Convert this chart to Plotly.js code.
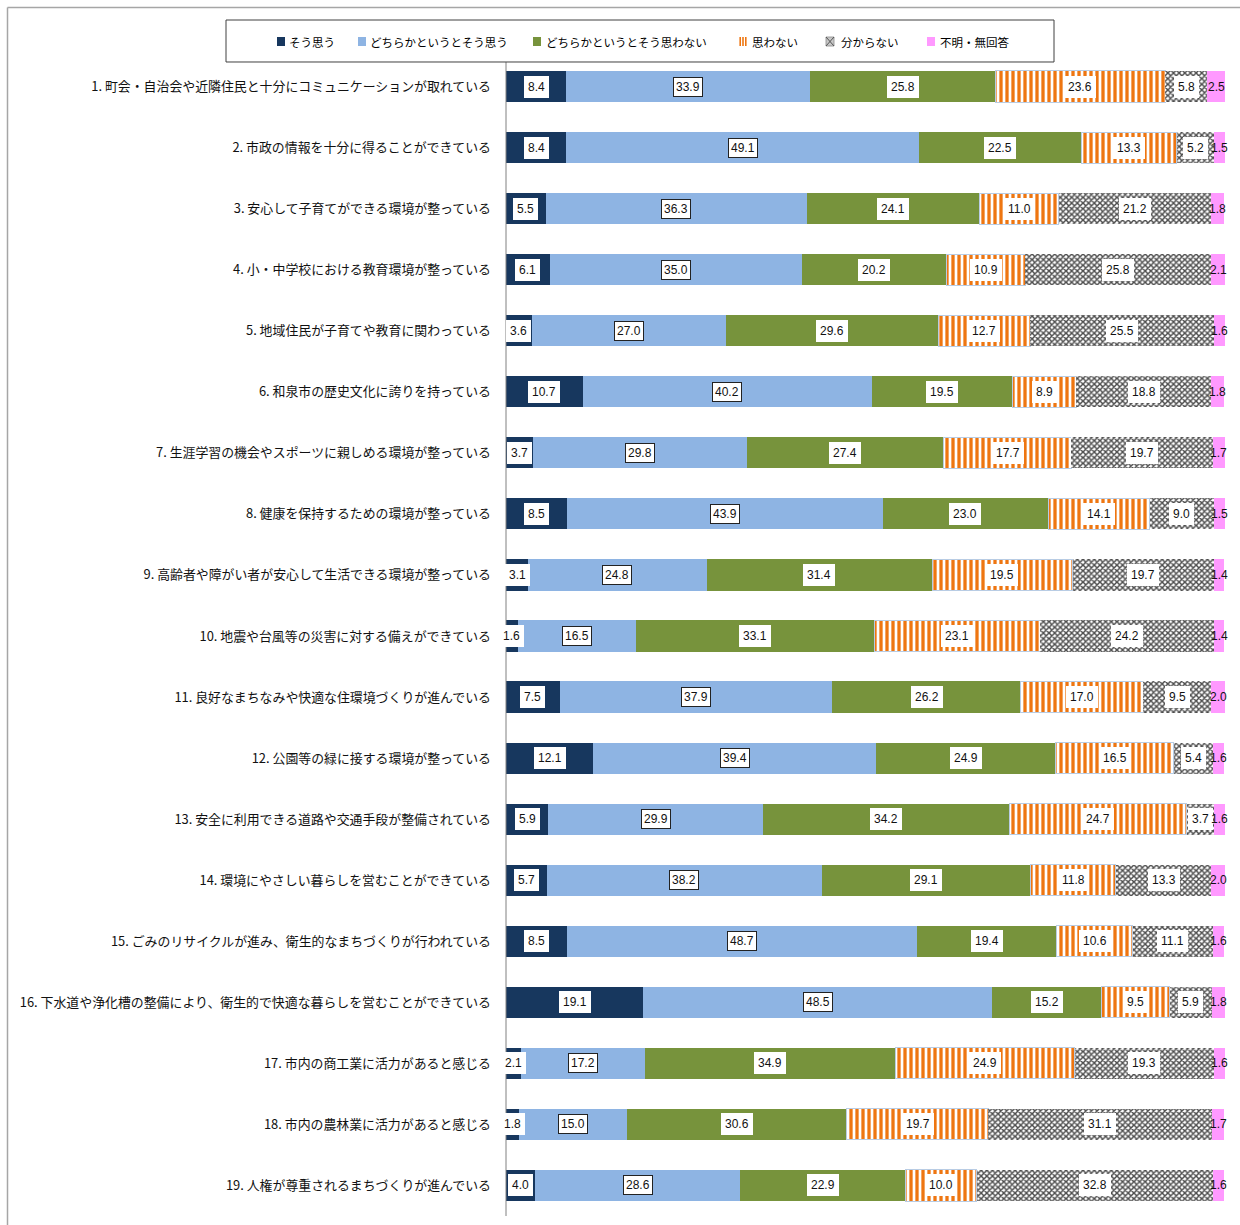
<!DOCTYPE html>
<html>
<head>
<meta charset="utf-8">
<script src="https://cdn.plot.ly/plotly-3.0.1.min.js"></script>
<style>html,body{margin:0;padding:0;background:#fff;}#chart{width:1240px;height:1225px;}</style>
</head>
<body>
<div id="chart"></div>
<script>
const categories = [
  "1. 町会・自治会や近隣住民と十分にコミュニケーションが取れている",
  "2. 市政の情報を十分に得ることができている",
  "3. 安心して子育てができる環境が整っている",
  "4. 小・中学校における教育環境が整っている",
  "5. 地域住民が子育てや教育に関わっている",
  "6. 和泉市の歴史文化に誇りを持っている",
  "7. 生涯学習の機会やスポーツに親しめる環境が整っている",
  "8. 健康を保持するための環境が整っている",
  "9. 高齢者や障がい者が安心して生活できる環境が整っている",
  "10. 地震や台風等の災害に対する備えができている",
  "11. 良好なまちなみや快適な住環境づくりが進んでいる",
  "12. 公園等の緑に接する環境が整っている",
  "13. 安全に利用できる道路や交通手段が整備されている",
  "14. 環境にやさしい暮らしを営むことができている",
  "15. ごみのリサイクルが進み、衛生的なまちづくりが行われている",
  "16. 下水道や浄化槽の整備により、衛生的で快適な暮らしを営むことができている",
  "17. 市内の商工業に活力があると感じる",
  "18. 市内の農林業に活力があると感じる",
  "19. 人権が尊重されるまちづくりが進んでいる"
];
const seriesNames = ["そう思う","どちらかというとそう思う","どちらかというとそう思わない","思わない","分からない","不明・無回答"];
const souOmou     = [8.4, 8.4, 5.5, 6.1, 3.6, 10.7, 3.7, 8.5, 3.1, 1.6, 7.5, 12.1, 5.9, 5.7, 8.5, 19.1, 2.1, 1.8, 4.0];
const dochiraSou  = [33.9, 49.1, 36.3, 35.0, 27.0, 40.2, 29.8, 43.9, 24.8, 16.5, 37.9, 39.4, 29.9, 38.2, 48.7, 48.5, 17.2, 15.0, 28.6];
const dochiraNai  = [25.8, 22.5, 24.1, 20.2, 29.6, 19.5, 27.4, 23.0, 31.4, 33.1, 26.2, 24.9, 34.2, 29.1, 19.4, 15.2, 34.9, 30.6, 22.9];
const omowanai    = [23.6, 13.3, 11.0, 10.9, 12.7, 8.9, 17.7, 14.1, 19.5, 23.1, 17.0, 16.5, 24.7, 11.8, 10.6, 9.5, 24.9, 19.7, 10.0];
const wakaranai   = [5.8, 5.2, 21.2, 25.8, 25.5, 18.8, 19.7, 9.0, 19.7, 24.2, 9.5, 5.4, 3.7, 13.3, 11.1, 5.9, 19.3, 31.1, 32.8];
const fumei       = [2.5, 1.5, 1.8, 2.1, 1.6, 1.8, 1.7, 1.5, 1.4, 1.4, 2.0, 1.6, 1.6, 2.0, 1.6, 1.8, 1.6, 1.7, 1.6];

const seriesValues = [souOmou, dochiraSou, dochiraNai, omowanai, wakaranai, fumei];

const styles = [
  {color:'#17375E'},
  {color:'#8EB4E3'},
  {color:'#77933C'},
  {color:'#FFFFFF', line:{color:'#B8CCE4', width:1}, pattern:{shape:'|', fgcolor:'#EE7611', bgcolor:'#FFFFFF', size:6, solidity:0.55}},
  {color:'#FFFFFF', pattern:{shape:'x', fgcolor:'#4D4D4D', bgcolor:'#FFFFFF', size:4, solidity:0.6}},
  {color:'#FF99FF'}
];

const traces = seriesValues.map((vals, i) => {
  const s = styles[i];
  const marker = {color: s.color, line: s.line || {width:0}};
  if (s.pattern) marker.pattern = s.pattern;
  return {type:'bar', orientation:'h', name: seriesNames[i], x: vals, y: categories,
          marker: marker, hoverinfo:'x+name', showlegend:false};
});

// value labels
const annotations = [];
categories.forEach((cat, r) => {
  let cum = 0;
  seriesValues.forEach((vals, i) => {
    const v = vals[r];
    const a = {xref:'x', yref:'y', x: cum + v/2, y: cat, text: v.toFixed(1), showarrow:false,
               font:{family:'Liberation Sans, Arial, sans-serif', size:12, color:'#111'}};
    if (i === 5) {
      a.borderpad = 0;
    } else if (i === 1) {
      a.bgcolor = '#FFFFFF'; a.bordercolor = '#222'; a.borderwidth = 1; a.borderpad = 2;
    } else {
      a.bgcolor = '#FFFFFF'; a.borderwidth = 0; a.borderpad = 4;
    }
    annotations.push(a);
    cum += v;
  });
});

// layout geometry helpers (pixel -> paper)
const W = 1240, H = 1225, mL = 506, mR = 15, mT = 56, mB = 8.5;
const pw = W - mL - mR, ph = H - mT - mB;
const px = p => (p - mL) / pw;
const py = p => (H - mB - p) / ph;

const shapes = [];
// outer frame (left & top)
shapes.push({type:'line', xref:'paper', yref:'paper', x0:px(7.5), x1:px(1245), y0:py(7.5), y1:py(7.5), line:{color:'#A6A6A6', width:1.5}});
shapes.push({type:'line', xref:'paper', yref:'paper', x0:px(7.5), x1:px(7.5), y0:py(7.5), y1:py(1230), line:{color:'#A6A6A6', width:1.5}});
// y axis line
shapes.push({type:'line', xref:'paper', yref:'paper', x0:0, x1:0, y0:0, y1:1, line:{color:'#808080', width:1}});
// legend box
shapes.push({type:'rect', xref:'paper', yref:'paper', x0:px(226), x1:px(1054), y0:py(20), y1:py(62), line:{color:'#404040', width:1}, fillcolor:'#FFFFFF'});

const legendItems = [
  {sx:277, tx:287},
  {sx:358, tx:368},
  {sx:533, tx:544},
  {sx:739, tx:750},
  {sx:826, tx:839},
  {sx:927, tx:938}
];
const symColors = ['#17375E','#8EB4E3','#77933C',null,null,'#FF99FF'];
const ly = 41.5, hs = 4.5;
legendItems.forEach((it, i) => {
  if (i === 3) {
    shapes.push({type:'rect', xref:'paper', yref:'paper', x0:px(it.sx), x1:px(it.sx+8), y0:py(ly+hs), y1:py(ly-hs), line:{width:0}, fillcolor:'#FFFFFF'});
    [it.sx+1.2, it.sx+4, it.sx+6.8].forEach(xx => {
      shapes.push({type:'line', xref:'paper', yref:'paper', x0:px(xx), x1:px(xx), y0:py(ly+hs), y1:py(ly-hs), line:{color:'#EE7611', width:1.6}});
    });
  } else if (i === 4) {
    shapes.push({type:'rect', xref:'paper', yref:'paper', x0:px(it.sx), x1:px(it.sx+8), y0:py(ly+hs), y1:py(ly-hs), line:{color:'#8a8a8a', width:0.8}, fillcolor:'#C8C8C8'});
    shapes.push({type:'line', xref:'paper', yref:'paper', x0:px(it.sx), x1:px(it.sx+8), y0:py(ly+hs), y1:py(ly-hs), line:{color:'#555', width:1}});
    shapes.push({type:'line', xref:'paper', yref:'paper', x0:px(it.sx), x1:px(it.sx+8), y0:py(ly-hs), y1:py(ly+hs), line:{color:'#555', width:1}});
  } else {
    shapes.push({type:'rect', xref:'paper', yref:'paper', x0:px(it.sx), x1:px(it.sx+8), y0:py(ly+hs), y1:py(ly-hs), line:{width:0}, fillcolor:symColors[i]});
  }
  annotations.push({xref:'paper', yref:'paper', x:px(it.tx), y:py(ly), xanchor:'left', yanchor:'middle',
    text: seriesNames[i], showarrow:false, font:{family:'Noto Sans CJK JP, sans-serif', size:11.5, color:'#000'}});
});

const layout = {
  width: W, height: H,
  margin: {l:mL, r:mR, t:mT, b:mB, pad:0},
  paper_bgcolor:'#FFFFFF', plot_bgcolor:'#FFFFFF',
  barmode:'stack', bargap:0.49,
  showlegend:false,
  xaxis:{range:[0,100], showticklabels:false, showgrid:false, zeroline:false, showline:false, ticks:'', fixedrange:true},
  yaxis:{type:'category', autorange:'reversed', showgrid:false, zeroline:false, showline:false, ticks:'',
         ticklabelstandoff:14, automargin:false,
         tickfont:{family:'Noto Sans CJK JP, sans-serif', size:12.9, color:'#111'}},
  annotations: annotations,
  shapes: shapes
};

Plotly.newPlot('chart', traces, layout, {displayModeBar:false, staticPlot:true});
</script>
</body>
</html>
